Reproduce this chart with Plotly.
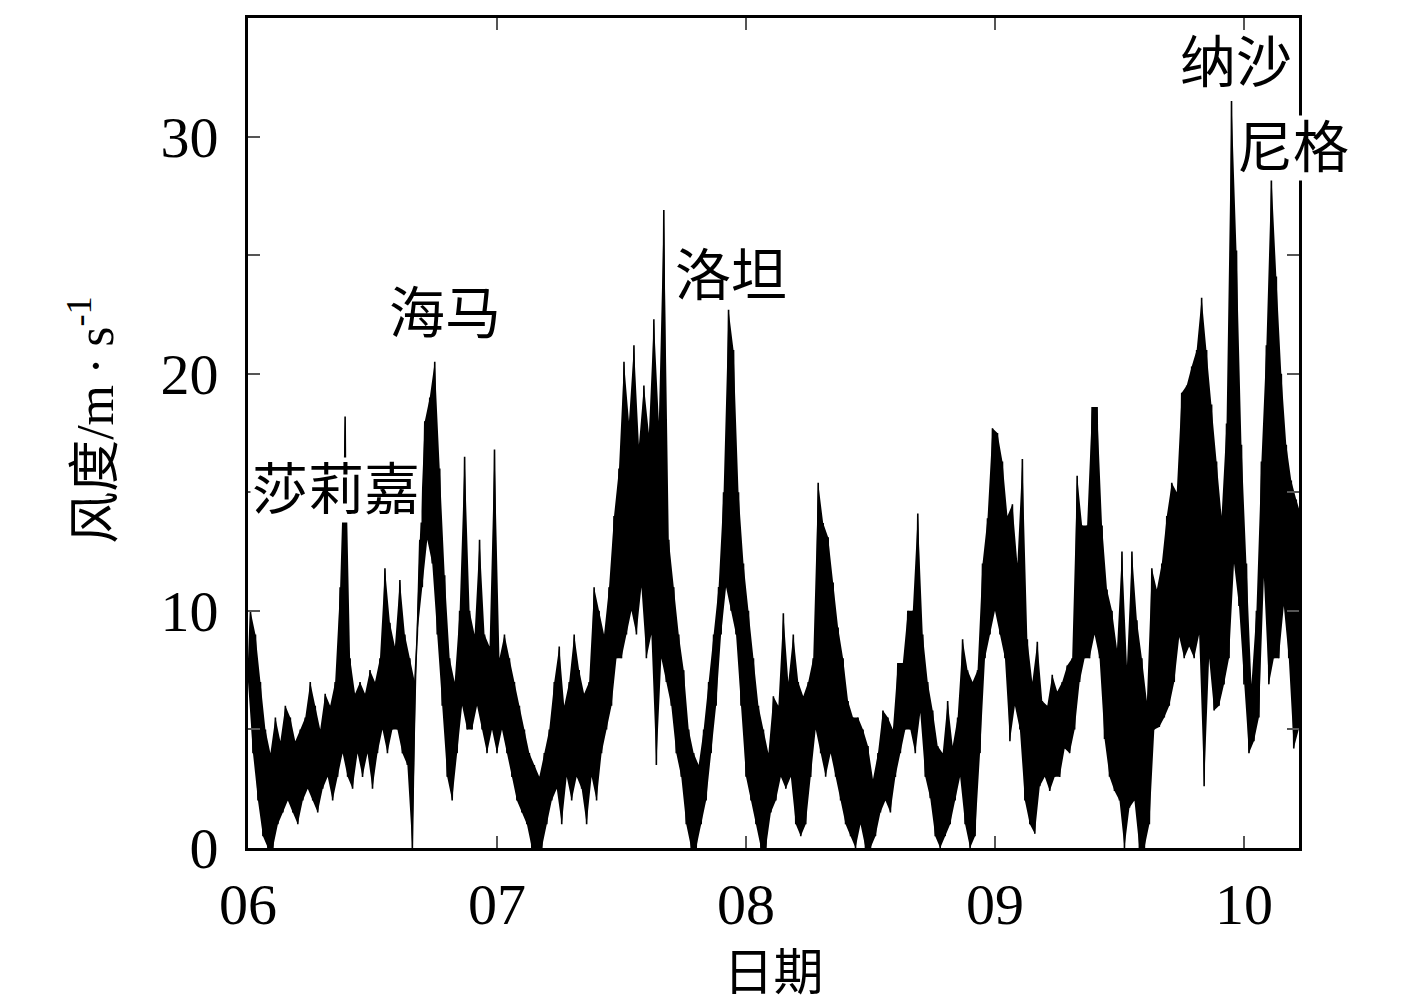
import numpy as np
import plotly.graph_objects as go

LINE_COLOR = "#000000"
TICK_COLOR = "#555555"
FONT = "Liberation Serif, Noto Sans CJK SC, serif"

# one reading pair (low, high) every 0.02 month, starting on 06-01
STEP = 0.02

MONTH_TICKS = [6, 7, 8, 9, 10]
MONTH_LABELS = ["06", "07", "08", "09", "10"]

jun_lo = [7, 4, 2, 0.5, 0, 0, 1, 1.5, 2, 1.5,
          1, 2, 2.5, 2, 1.5, 2.5, 3, 2, 3, 4,
          3, 2.5, 4, 3, 4, 2.5, 4, 5, 4, 5,
          5, 4, 3.5, 0, 9, 11, 13, 12, 9, 6,
          3, 2, 4, 6, 5, 5, 6, 5, 4, 5]
jun_hi = [10, 9, 7, 5, 4, 5.5, 4.5, 6, 5.5, 4.5,
          5, 5.5, 7, 6, 5, 6.5, 6, 7, 11, 18.2,
          8, 6.5, 7, 6.5, 7.5, 7, 8, 11.8, 9.5, 8.5,
          11.3, 9, 8, 7, 13, 18, 19, 20.5, 16, 11.5,
          8, 7, 10, 16.5, 10, 9, 13, 9, 8.5, 16.8]

jul_lo = [4, 5, 4, 3, 2, 1.5, 1, 0, 0, 0,
          1, 2, 2.5, 1, 3, 2, 3, 2.5, 1, 3,
          2, 4, 5, 6, 8, 8, 9, 10, 9, 11,
          8, 9, 3.5, 8, 7, 6, 4, 3, 1, 0,
          0, 1, 2, 4, 6, 9, 11, 10, 9, 6]
jul_hi = [8, 9, 8, 7, 6, 5, 4, 3.5, 3, 4,
          5, 7, 8.5, 6, 7, 9, 7.5, 6.5, 7, 11,
          10, 9, 11, 14, 16, 20.5, 18, 21.2, 17, 19.5,
          17.5, 22.3, 18, 26.9, 13, 11, 9, 7.5, 5, 4,
          3.5, 5, 7, 9, 11, 15, 22.7, 21, 15, 12]

aug_lo = [3, 2, 1, 0, 0, 1.5, 2, 3, 2.5, 3,
          1, 0.5, 1, 3, 5, 4, 3, 4, 3, 2,
          1, 0.5, 0, 1, 0, 0, 0.5, 1.5, 2, 1.5,
          3, 4, 5, 5, 4, 5.7, 3, 2.1, 0.5, 0,
          0.5, 1, 2, 3, 1, 0, 0.5, 4, 8, 9]
aug_hi = [10, 8, 6, 5, 4, 6.4, 6, 9.9, 7, 9,
          7, 6.4, 7, 8, 15.4, 13.7, 13.1, 11.2, 9.3, 8,
          6.2, 5.5, 5.5, 5, 4.3, 2.9, 4, 5.8, 5.5, 5,
          7.8, 7.8, 10, 10, 14.1, 9, 7, 5.8, 4.3, 4,
          6.2, 4.3, 5.5, 8.8, 7.5, 7, 7.5, 12, 13.9, 17.7]

sep_lo = [10, 9, 8, 4.5, 6, 5, 2, 1, 0.6, 2.6,
          3, 2.4, 3, 3, 4.2, 4, 5, 7, 8, 8,
          9, 8, 4.6, 3, 2.4, 2, 0, 1.7, 2, 0,
          0, 1, 5, 5.1, 5.5, 6, 7, 8.9, 8, 8.5,
          8, 9, 2.6, 8, 5.8, 6, 6.9, 8, 12, 10.2]
sep_hi = [17.5, 16.3, 14, 14.5, 12, 16.4, 8.8, 7, 8.7, 6.2,
          6, 7.3, 6.6, 7, 7.7, 8, 15.7, 13.6, 13.6, 18.6,
          18.6, 13.6, 10.9, 10, 8.4, 12.5, 7.7, 12.5, 9.6, 8,
          6.2, 11.8, 10.9, 12, 14, 15.4, 15, 19.2, 19.5, 20.3,
          21, 23.2, 21, 18.7, 16.3, 14, 17.9, 31.5, 25.2, 17]

oct_lo = [6.9, 4, 4.5, 5.5, 11.4, 6.9, 8, 8, 10.2, 8, 4.2, 5]
oct_hi = [12, 6.9, 10, 16.3, 21.2, 28.4, 24.1, 20, 17, 15.5, 14.7, 14]

TYPHOONS = ["莎莉嘉", "海马", "洛坦", "纳沙", "尼格"]
TYPHOON_X = [6.354, 6.792, 7.938, 9.968, 10.197]
TYPHOON_Y = [15.1, 22.5, 24.1, 33.1, 29.5]


def build_series():
    lows = np.array(jun_lo + jul_lo + aug_lo + sep_lo + oct_lo)
    highs = np.array(jun_hi + jul_hi + aug_hi + sep_hi + oct_hi)
    t_lo = 6 + STEP * np.arange(len(lows))
    t_hi = t_lo + STEP / 2
    return t_lo, lows, t_hi, highs


def axis_style():
    return dict(
        ticks="inside",
        ticklen=12,
        tickwidth=2,
        tickcolor=TICK_COLOR,
        showline=True,
        linewidth=3,
        linecolor="black",
        mirror="ticks",
        showgrid=False,
        zeroline=False,
        tickfont=dict(size=58, family=FONT, color="black"),
    )


t_lo, lows, t_hi, highs = build_series()

fig = go.Figure()
# the record is so dense that it prints as a black band between the lows and highs
fig.add_trace(
    go.Scatter(
        x=np.concatenate([t_hi, t_lo[::-1]]),
        y=np.concatenate([highs, lows[::-1]]),
        mode="lines",
        fill="toself",
        fillcolor=LINE_COLOR,
        line=dict(width=0, color=LINE_COLOR),
        showlegend=False,
        hoverinfo="skip",
    )
)
# and the raw saw of the readings on top, for the ragged edges
fig.add_trace(
    go.Scatter(
        x=np.column_stack([t_lo, t_hi]).ravel(),
        y=np.column_stack([lows, highs]).ravel(),
        mode="lines",
        line=dict(color=LINE_COLOR, width=1.6),
        showlegend=False,
        hoverinfo="skip",
    )
)

for name, x, y in zip(TYPHOONS, TYPHOON_X, TYPHOON_Y):
    fig.add_annotation(
        x=x,
        y=y,
        text=name,
        showarrow=False,
        font=dict(size=56, family=FONT, color="black"),
        bgcolor="white",
        borderpad=1,
    )

# y title as a rotated note so it sits where the original does
fig.add_annotation(
    xref="paper",
    yref="paper",
    x=-0.1483,
    y=0.516,
    xanchor="center",
    yanchor="middle",
    text="风度/m\u2009·\u2009s<sup>-1</sup>",
    textangle=-90,
    showarrow=False,
    font=dict(size=52, family=FONT, color="black"),
)

fig.update_layout(
    width=1417,
    height=1004,
    margin=dict(l=248, r=118, t=18, b=156),
    plot_bgcolor="white",
    paper_bgcolor="white",
    font=dict(family=FONT, color="black"),
    xaxis=dict(
        range=[6, 10.221],
        tickvals=MONTH_TICKS,
        ticktext=MONTH_LABELS,
        ticklabelstandoff=3,
        title=dict(text="日期", font=dict(size=50, family=FONT), standoff=20),
        **axis_style(),
    ),
    yaxis=dict(
        range=[0, 35],
        tick0=0,
        dtick=10,
        minor=dict(dtick=5, ticks="inside", ticklen=12, tickwidth=2, tickcolor=TICK_COLOR),
        ticklabelstandoff=15,
        **axis_style(),
    ),
)

fig.write_html(
    "out.html",
    config=dict(displayModeBar=False),
    post_script="document.body.style.margin='0';document.body.style.overflow='hidden';",
)
